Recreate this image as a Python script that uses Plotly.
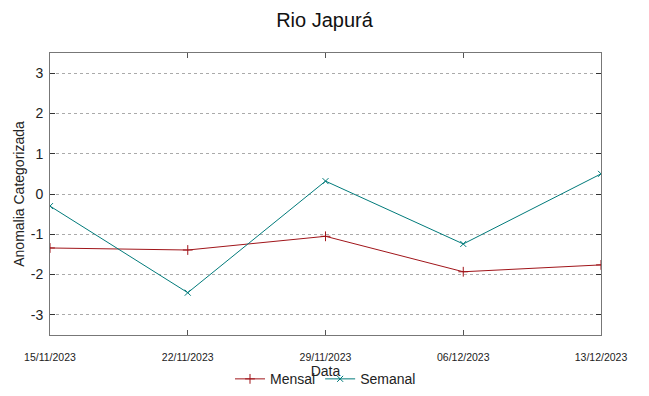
import plotly.graph_objects as go

datas = ["2023-11-15", "2023-11-22", "2023-11-29", "2023-12-06", "2023-12-13"]
rotulos_x = ["15/11/2023", "22/11/2023", "29/11/2023", "06/12/2023", "13/12/2023"]
mensal = [-1.34, -1.39, -1.05, -1.93, -1.76]
semanal = [-0.30, -2.45, 0.32, -1.24, 0.50]
ticks_y = [-3, -2, -1, 0, 1, 2, 3]
rotulos_y = ["-3", "-2", "-1", "0", "1", "2", "3"]

fig = go.Figure()
fig.add_trace(go.Scatter(x=datas, y=mensal, name="Mensal", mode="lines+markers",
                         line=dict(color="#a0151a", width=1),
                         marker=dict(symbol="cross-thin", size=7, line=dict(color="#a0151a", width=1))))
fig.add_trace(go.Scatter(x=datas, y=semanal, name="Semanal", mode="lines+markers",
                         line=dict(color="#007a7a", width=1),
                         marker=dict(symbol="x-thin", size=6, line=dict(color="#007a7a", width=1))))

fig.update_layout(
    width=633, height=380,
    margin=dict(l=42, r=40, t=45, b=53, autoexpand=False),
    paper_bgcolor="white", plot_bgcolor="white",
    font=dict(family="Liberation Sans, Arial, sans-serif", color="#222"),
    title=dict(text="Rio Japurá", x=0.5, xanchor="center", y=0.968, yanchor="middle",
               font=dict(size=20, color="#111")),
    showlegend=True,
    legend=dict(orientation="h", x=0.5, xanchor="center", y=-0.157, yanchor="middle",
                font=dict(size=14), bgcolor="rgba(0,0,0,0)", itemwidth=30,
                tracegroupgap=0),
)
fig.update_xaxes(
    type="date", range=[datas[0], datas[-1]], automargin=False,
    tickvals=datas, ticktext=rotulos_x, tickfont=dict(size=10.5),
    ticks="inside", ticklen=5, tickcolor="#555", ticklabelstandoff=12,
    showline=True, linecolor="#777", linewidth=1, mirror="ticks",
    showgrid=False, zeroline=False,
    title=dict(text="Data", font=dict(size=14), standoff=0),
)
fig.update_yaxes(
    range=[-3.5, 3.5], automargin=False, tickvals=ticks_y, ticktext=rotulos_y,
    tickfont=dict(size=14), ticklabelstandoff=3,
    ticks="inside", ticklen=5, tickcolor="#333",
    showline=True, linecolor="#777", linewidth=1, mirror="ticks",
    showgrid=True, gridcolor="#aaa", griddash="dot", gridwidth=1,
    zeroline=False,
    title=dict(text="Anomalia Categorizada", font=dict(size=14), standoff=2),
)
fig.write_html("out.html")
